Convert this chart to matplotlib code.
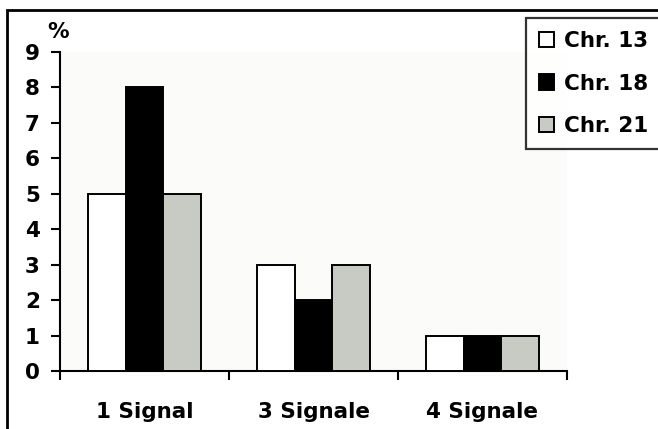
import matplotlib.pyplot as plt
from matplotlib.patches import Rectangle
import numpy as np

plt.rcParams['font.family'] = ['DejaVu Sans']
plt.rcParams['font.weight'] = 'bold'

# counts per signal class
categories = ['1 Signal', '3 Signale', '4 Signale']
chr13 = [5, 3, 1]
chr18 = [8, 2, 1]
chr21 = [5, 3, 1]

series = [('Chr. 13', chr13, 'white'),
          ('Chr. 18', chr18, 'black'),
          ('Chr. 21', chr21, '#C8CAC4')]

fig = plt.figure(figsize=(6.58, 4.29), dpi=100)
fig.patch.set_facecolor('white')

# outer frame, open to the right and bottom
fig.patches.append(Rectangle((7/658, -0.1), 1.2, 1 - 10/429 + 0.1,
                             transform=fig.transFigure, fill=False,
                             edgecolor='black', linewidth=2.0))

ax = fig.add_axes([60/658, 1 - 371/429, 507/658, 319/429])
ax.set_facecolor('#FBFBFA')

x = np.arange(len(categories))
w = 0.222
for i, (name, vals, col) in enumerate(series):
    ax.bar(x + (i - 1) * w, vals, w, color=col, edgecolor='black',
           linewidth=1.4, label=name, zorder=3)

ax.set_xlim(-0.5, 2.5)
ax.set_ylim(0, 9)
ax.set_yticks(range(10))
ax.set_xticks([-0.5, 0.5, 1.5, 2.5])
ax.set_xticklabels([])
ax.set_xticks(x, minor=True)
ax.set_xticklabels(categories, minor=True)
ax.tick_params(axis='x', which='minor', length=0, pad=22, labelsize=15.5)
ax.tick_params(axis='x', which='major', length=6.5, width=1.5, direction='out')
ax.tick_params(axis='y', length=6.5, width=1.5, direction='out', labelsize=15.5, pad=8)
for s in ['top', 'right']:
    ax.spines[s].set_visible(False)
for s in ['left', 'bottom']:
    ax.spines[s].set_linewidth(1.5)

ax.text(-0.025, 1.03, '%', transform=ax.transAxes, fontsize=15.5,
        ha='left', va='bottom')

leg = fig.legend(loc='upper left', bbox_to_anchor=(526/658, 1 - 18/429),
                 fontsize=15.5, frameon=True, fancybox=False,
                 handlelength=0.68, handleheight=0.7, handletextpad=0.5,
                 labelspacing=1.05, borderpad=0.6, borderaxespad=0)
leg.get_frame().set_edgecolor('black')
leg.get_frame().set_linewidth(1.6)

fig.savefig('out.png', dpi=100)
